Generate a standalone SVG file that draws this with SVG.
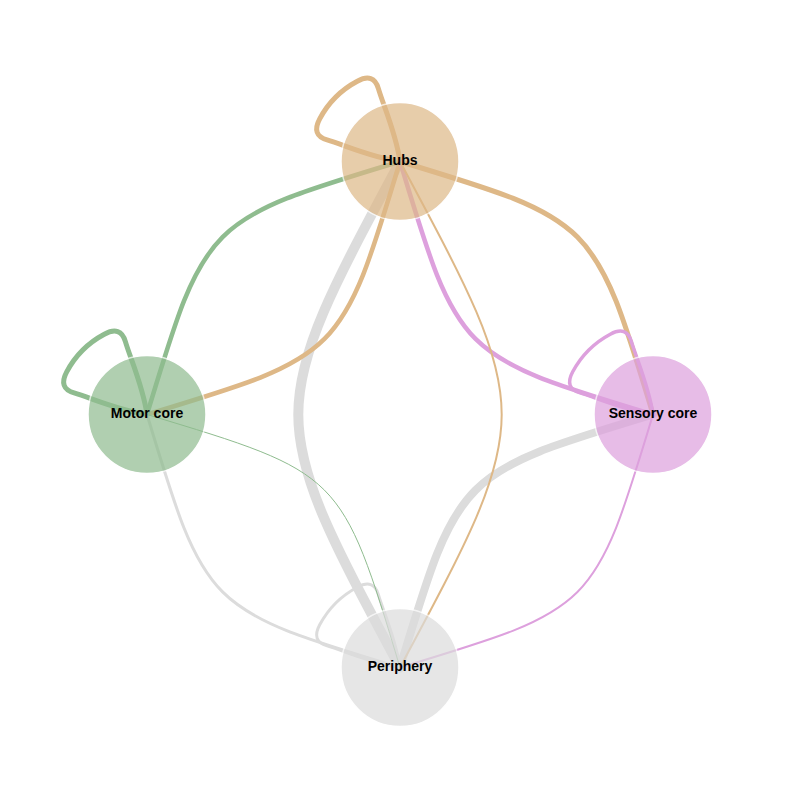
<svg xmlns="http://www.w3.org/2000/svg" width="800" height="800" viewBox="0 0 800 800">
<defs>
<style>
.e{fill:none;stroke-linecap:round}
.hub{stroke:#deb887}
.mot{stroke:#8fbc8f}
.sen{stroke:#dda0dd}
.per{stroke:#dcdcdc}
.node circle{opacity:0.7;stroke:#ffffff;stroke-width:1.5}
.node text{font-family:"Liberation Sans",Arial,sans-serif;font-size:14px;font-weight:bold;fill:#000;text-anchor:middle}
</style>
</defs>
<rect width="800" height="800" fill="#ffffff"/>
<g id="connectors">
<path id="e-per-hub" class="e per" stroke-width="10" d="M400,667.5 C264.4,414.5 264.4,414.5 400,161.5"/>
<path id="e-per-sen" class="e per" stroke-width="8" d="M400,667.5 C458.6,473.1 458.6,473.1 653,414.5"/>
<path id="e-hub-loop" class="e hub" stroke-width="5" d="M0,0 C-4,-28 -16.5,-55.6 -21.6,-72.9 Q-26.4,-89.1 -42.7,-80.3 A91,91 0 0 0 -80.3,-42.7 Q-89.1,-26.4 -72.9,-21.6 C-55.6,-16.5 -28,-4 0,0" transform="translate(400,161.5)"/>
<path id="e-mot-loop" class="e mot" stroke-width="5" d="M0,0 C-4,-28 -16.5,-55.6 -21.6,-72.9 Q-26.4,-89.1 -42.7,-80.3 A91,91 0 0 0 -80.3,-42.7 Q-89.1,-26.4 -72.9,-21.6 C-55.6,-16.5 -28,-4 0,0" transform="translate(147,414.5)"/>
<path id="e-hub-sen" class="e hub" stroke-width="5" d="M400,161.5 C594.4,220.1 594.4,220.1 653,414.5"/>
<path id="e-hub-mot" class="e hub" stroke-width="4.5" d="M400,161.5 C341.4,355.9 341.4,355.9 147,414.5"/>
<path id="e-mot-hub" class="e mot" stroke-width="4.5" d="M147,414.5 C205.6,220.1 205.6,220.1 400,161.5"/>
<path id="e-sen-hub" class="e sen" stroke-width="4.5" d="M653,414.5 C458.6,355.9 458.6,355.9 400,161.5"/>
<path id="e-sen-loop" class="e sen" stroke-width="3.5" d="M0,0 C-4,-28 -16.5,-55.6 -21.6,-72.9 Q-26.4,-89.1 -42.7,-80.3 A91,91 0 0 0 -80.3,-42.7 Q-89.1,-26.4 -72.9,-21.6 C-55.6,-16.5 -28,-4 0,0" transform="translate(653,414.5)"/>
<path id="e-per-mot" class="e per" stroke-width="3" d="M400,667.5 C205.6,608.9 205.6,608.9 147,414.5"/>
<path id="e-per-loop" class="e per" stroke-width="3" d="M0,0 C-4,-28 -16.5,-55.6 -21.6,-72.9 Q-26.4,-89.1 -42.7,-80.3 A91,91 0 0 0 -80.3,-42.7 Q-89.1,-26.4 -72.9,-21.6 C-55.6,-16.5 -28,-4 0,0" transform="translate(400,667.5)"/>
<path id="e-hub-per" class="e hub" stroke-width="2" d="M400,161.5 C535.6,414.5 535.6,414.5 400,667.5"/>
<path id="e-sen-per" class="e sen" stroke-width="2" d="M653,414.5 C594.4,608.9 594.4,608.9 400,667.5"/>
<path id="e-mot-per" class="e mot" stroke-width="1" d="M147,414.5 C341.4,473.1 341.4,473.1 400,667.5"/>
</g>
<g id="node-hubs" class="node">
<circle cx="400" cy="161.5" r="59" fill="#deb887"/>
<text x="400" y="164.5">Hubs</text>
</g>
<g id="node-motor" class="node">
<circle cx="147" cy="414.5" r="59" fill="#8fbc8f"/>
<text x="147" y="418">Motor core</text>
</g>
<g id="node-sensory" class="node">
<circle cx="653" cy="414.5" r="59" fill="#dda0dd"/>
<text x="653" y="418">Sensory core</text>
</g>
<g id="node-periphery" class="node">
<circle cx="400" cy="667.5" r="59" fill="#dcdcdc"/>
<text x="400" y="671">Periphery</text>
</g>
</svg>
